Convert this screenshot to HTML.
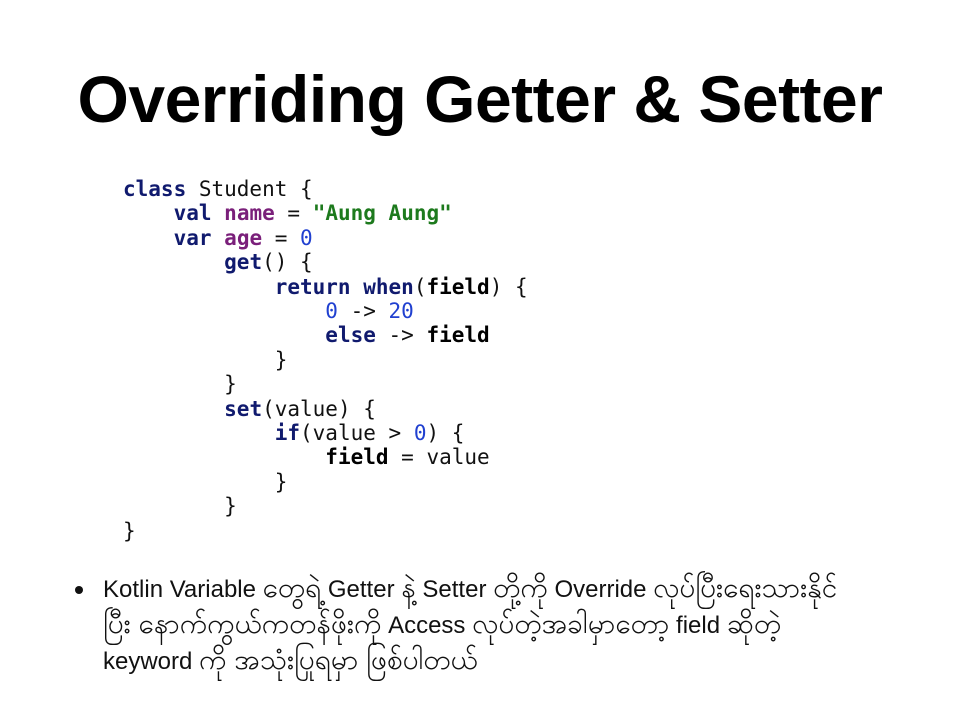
<!DOCTYPE html>
<html><head><meta charset="utf-8"><style>
body{margin:0;width:960px;height:720px;background:#fff;overflow:hidden;position:relative;font-family:"Liberation Sans",sans-serif}
h1{position:absolute;left:0;width:960px;top:61px;margin:0;text-align:center;font-size:66px;font-weight:bold;color:#000;letter-spacing:-0.5px;white-space:nowrap}
pre{position:absolute;left:123px;top:177px;margin:0;font-family:"DejaVu Sans Mono",monospace;font-size:21px;line-height:24.4px;color:#111}
.k{color:#101a6e;font-weight:bold}.p{color:#7a1f7a;font-weight:bold}.s{color:#1d7a1d;font-weight:bold}.n{color:#2040d0}.b{font-weight:bold;color:#000}
.bul{position:absolute;left:103px;top:572px;width:840px;font-size:24px;line-height:36px;color:#111;white-space:nowrap;font-family:"Liberation Sans","Noto Sans CJK SC",sans-serif}
.bul div{height:36px}
.m{font-size:28px;line-height:0}
.dot{position:absolute;left:75px;top:586px;width:8px;height:8px;border-radius:50%;background:#111}
</style></head><body>
<h1>Overriding Getter &amp; Setter</h1>
<pre><span class="k">class</span> Student {
    <span class="k">val</span> <span class="p">name</span> = <span class="s">"Aung Aung"</span>
    <span class="k">var</span> <span class="p">age</span> = <span class="n">0</span>
        <span class="k">get</span>() {
            <span class="k">return</span> <span class="k">when</span>(<span class="b">field</span>) {
                <span class="n">0</span> -&gt; <span class="n">20</span>
                <span class="k">else</span> -&gt; <span class="b">field</span>
            }
        }
        <span class="k">set</span>(value) {
            <span class="k">if</span>(value &gt; <span class="n">0</span>) {
                <span class="b">field</span> = value
            }
        }
}</pre>
<div class="dot"></div>
<div class="bul">
<div>Kotlin Variable <span class="m">တွေရဲ့</span> Getter <span class="m">နဲ့</span> Setter <span class="m">တို့ကို</span> Override <span class="m">လုပ်ပြီးရေးသားနိုင်</span></div>
<div><span class="m">ပြီး နောက်ကွယ်ကတန်ဖိုးကို</span> Access <span class="m">လုပ်တဲ့အခါမှာတော့</span> field <span class="m">ဆိုတဲ့</span></div>
<div>keyword <span class="m">ကို အသုံးပြုရမှာ ဖြစ်ပါတယ်</span></div>
</div>
</body></html>
